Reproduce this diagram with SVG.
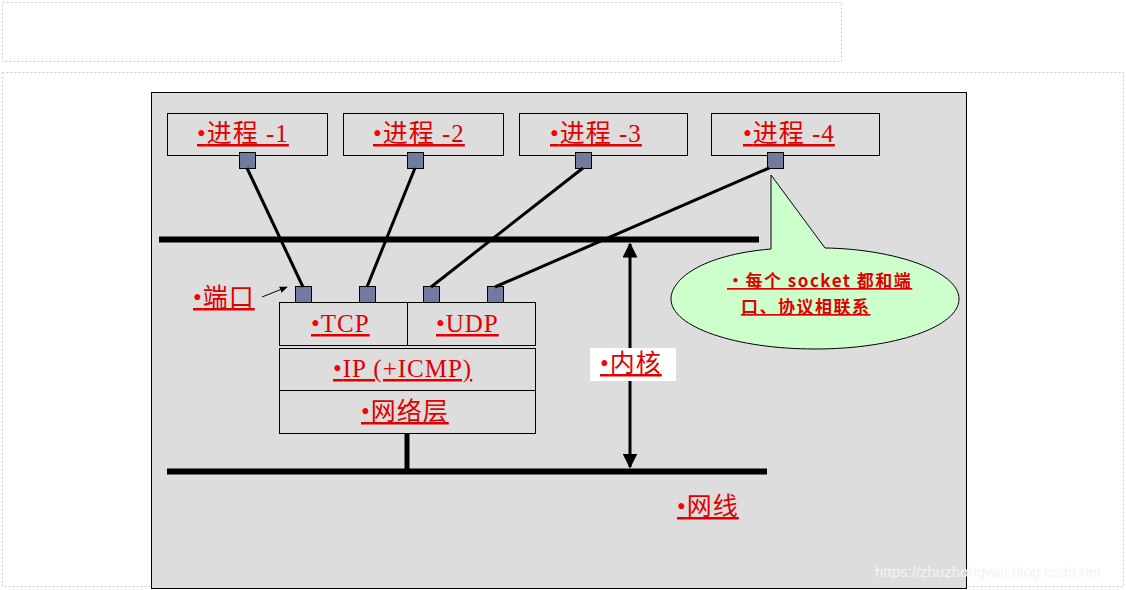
<svg xmlns="http://www.w3.org/2000/svg" width="1126" height="590" viewBox="0 0 1126 590">
<style>
.r{font-family:"Liberation Serif","Noto Sans CJK SC",serif;fill:#e00000;font-size:25px;letter-spacing:1px;text-decoration:underline}
.b{fill:#ff0000}
.box{fill:none;stroke:#000;stroke-width:1}
.port{fill:#717b9d;stroke:#000;stroke-width:1}
.ln{stroke:#000;stroke-width:3;fill:none}
.bar{stroke:#000;stroke-width:6}
.c{font-family:"Noto Sans CJK SC",serif;font-weight:bold;font-size:17px;fill:#e00000;text-decoration:underline;letter-spacing:1.5px}
</style>
<defs>
<marker id="ah" viewBox="0 0 10 10" refX="9" refY="5" markerWidth="5" markerHeight="5" orient="auto-start-reverse"><path d="M0,0L10,5L0,10z" fill="#000"/></marker>
<marker id="sa" viewBox="0 0 10 10" refX="9" refY="5" markerWidth="8" markerHeight="8" orient="auto"><path d="M0,1L10,5L0,9z" fill="#000"/></marker>
</defs>
<rect width="1126" height="590" fill="#fff"/>
<rect x="2.5" y="2.5" width="839" height="59" fill="none" stroke="#ccc" stroke-dasharray="2,2"/>
<rect x="2.5" y="72.5" width="1121" height="514" fill="none" stroke="#ccc" stroke-dasharray="2,2"/>
<rect x="151.5" y="92.5" width="815" height="496" fill="#dddddd" stroke="#000"/>
<g id="p1"><rect class="box" x="167.5" y="113.5" width="160" height="42"/><text class="r" x="197" y="142"><tspan class="b">•</tspan>进程 -1</text></g>
<g id="p2"><rect class="box" x="343.5" y="113.5" width="160" height="42"/><text class="r" x="373" y="142"><tspan class="b">•</tspan>进程 -2</text></g>
<g id="p3"><rect class="box" x="519.5" y="113.5" width="168" height="42"/><text class="r" x="550" y="142"><tspan class="b">•</tspan>进程 -3</text></g>
<g id="p4"><rect class="box" x="711.5" y="113.5" width="168" height="42"/><text class="r" x="743" y="142"><tspan class="b">•</tspan>进程 -4</text></g>
<g id="ports">
<rect class="port" x="239.5" y="152.5" width="16" height="16"/><rect class="port" x="407.5" y="152.5" width="16" height="16"/><rect class="port" x="575.5" y="152.5" width="16" height="16"/><rect class="port" x="767.5" y="152.5" width="16" height="16"/>
<rect class="port" x="295.5" y="286.5" width="16" height="16"/><rect class="port" x="359.5" y="286.5" width="16" height="16"/><rect class="port" x="423.5" y="286.5" width="16" height="16"/><rect class="port" x="487.5" y="286.5" width="16" height="16"/>
</g>
<g id="connectors">
<line class="ln" x1="247" y1="168" x2="303" y2="287"/>
<line class="ln" x1="415" y1="168" x2="367" y2="287"/>
<line class="ln" x1="583" y1="168" x2="431" y2="287"/>
<line class="ln" x1="769" y1="168" x2="495" y2="287"/>
<line class="bar" x1="159" y1="239.5" x2="759" y2="239.5"/>
<line class="bar" x1="167" y1="471.5" x2="767" y2="471.5"/>
<line x1="407" y1="433" x2="407" y2="471" stroke="#000" stroke-width="5"/>
<line x1="630" y1="244" x2="630" y2="467" stroke="#000" stroke-width="3" marker-start="url(#ah)" marker-end="url(#ah)"/>
<line x1="262" y1="297" x2="287" y2="287" stroke="#000" stroke-width="1" marker-end="url(#sa)"/>
</g>
<g id="stack">
<rect class="box" x="279.5" y="302.5" width="256" height="43"/><line class="box" x1="407.5" y1="302" x2="407.5" y2="345"/>
<text class="r" x="311" y="332"><tspan class="b">•</tspan>TCP</text>
<text class="r" x="436" y="332"><tspan class="b">•</tspan>UDP</text>
<rect class="box" x="279.5" y="348.5" width="256" height="42"/>
<text class="r" x="333" y="377"><tspan class="b">•</tspan>IP (+ICMP)</text>
<rect class="box" x="279.5" y="390.5" width="256" height="43"/>
<text class="r" x="361" y="420"><tspan class="b">•</tspan>网络层</text>
</g>
<g id="port-label"><text class="r" x="193" y="306"><tspan class="b">•</tspan>端口</text></g>
<g id="kernel"><rect x="590" y="348" width="86" height="33" fill="#fff"/><text class="r" x="600" y="372"><tspan class="b">•</tspan>内核</text></g>
<g id="wire"><text class="r" x="677" y="515"><tspan class="b">•</tspan>网线</text></g>
<g id="callout">
<path d="M771,175 L771,249 C700,255 671,280 671,299 C671,327 736,349 815,349 C894,349 959,327 959,299 C959,271 894,249 825,248 Z" fill="#ccffcc" stroke="#000" stroke-width="1"/>
<text class="c" x="727" y="287">•每个 socket 都和端</text>
<text class="c" x="741" y="313">口、协议相联系</text>
</g>
<text x="875" y="577" style="font-family:'Liberation Sans',sans-serif;font-size:15px;fill:#f4f4f4">https://zhuzhongwei.blog.csdn.net</text>
</svg>
